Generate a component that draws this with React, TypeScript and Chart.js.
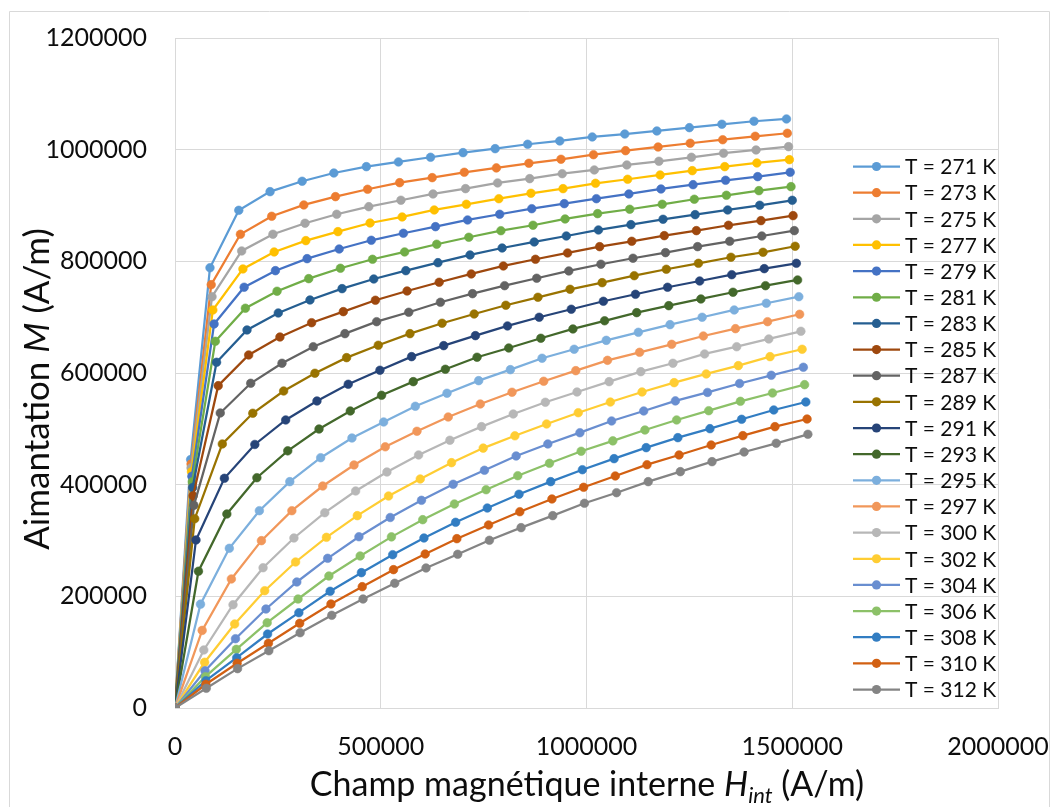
import React, { useEffect, useRef } from "react";
import { Chart, registerables } from "chart.js";

Chart.register(...registerables);

// Temperatures (legend labels)
const temperatures = [271, 273, 275, 277, 279, 281, 283, 285, 287, 289, 291, 293, 295, 297, 300, 302, 304, 306, 308, 310, 312];

// Series colours (Excel Office palette order)
const seriesColors = [
  "#5B9BD5", "#ED7D31", "#A5A5A5", "#FFC000", "#4472C4", "#70AD47",
  "#255E91", "#9E480E", "#636363", "#997300", "#264478", "#43682B",
  "#7CAFDD", "#F1975A", "#B7B7B7", "#FFCD33", "#698ED0", "#8CC168",
  "#327DC2", "#D26012", "#848484",
];

// Internal field H_int (A/m) and magnetisation M (A/m), one pair of arrays per temperature
const h271 = [0, 38000, 85000, 155000, 231000, 309000, 386000, 465000, 543000, 621000, 700000, 778000, 857000, 935000, 1014000, 1093000, 1171000, 1250000, 1329000, 1407000, 1486000];
const m271 = [0, 445000, 788600, 891400, 924800, 943400, 958200, 969600, 978000, 986400, 994700, 1001800, 1009700, 1015600, 1022800, 1028000, 1033500, 1039400, 1045500, 1050900, 1055000];

const h273 = [0, 39000, 88000, 159000, 235000, 313000, 390000, 468000, 546000, 625000, 703000, 781000, 860000, 938000, 1017000, 1095000, 1174000, 1252000, 1331000, 1410000, 1488000];
const m273 = [0, 437000, 758200, 848500, 880700, 901000, 915900, 929100, 940900, 949900, 959500, 967300, 975600, 982800, 991000, 998200, 1004800, 1011500, 1017800, 1024000, 1029400];

const h275 = [0, 39000, 90000, 162000, 238000, 316000, 393000, 471000, 549000, 627000, 706000, 784000, 862000, 941000, 1019000, 1098000, 1176000, 1255000, 1333000, 1412000, 1491000];
const m275 = [0, 430000, 736700, 818600, 848500, 868200, 884300, 897900, 909400, 920700, 930200, 940400, 948100, 957000, 963700, 972600, 979200, 986400, 993600, 999500, 1005400];

const h277 = [0, 40000, 92000, 165000, 241000, 318000, 396000, 474000, 552000, 630000, 708000, 787000, 865000, 943000, 1022000, 1100000, 1179000, 1257000, 1336000, 1414000, 1493000];
const m277 = [0, 423000, 712900, 786400, 816800, 837100, 853200, 868700, 879500, 892000, 902200, 912200, 921900, 930200, 939800, 947000, 954700, 962400, 969600, 976200, 982100];

const h279 = [0, 41000, 95000, 168000, 244000, 321000, 399000, 477000, 555000, 633000, 711000, 789000, 867000, 946000, 1024000, 1103000, 1181000, 1259000, 1338000, 1416000, 1495000];
const m279 = [0, 415000, 687800, 753600, 783300, 804800, 822100, 837700, 850300, 862100, 874100, 884300, 894300, 903300, 912200, 920700, 929600, 937300, 945200, 951700, 959500];

const h281 = [0, 42000, 98000, 171000, 248000, 325000, 402000, 480000, 558000, 636000, 714000, 792000, 870000, 948000, 1027000, 1105000, 1184000, 1262000, 1340000, 1419000, 1497000];
const m281 = [0, 405000, 656800, 716000, 746400, 769000, 787600, 803700, 816800, 830600, 843100, 854900, 864600, 875900, 885400, 893300, 902200, 911200, 918300, 926600, 933800];

const h283 = [0, 43000, 101000, 175000, 251000, 328000, 406000, 483000, 561000, 639000, 717000, 795000, 873000, 951000, 1029000, 1108000, 1186000, 1264000, 1343000, 1421000, 1500000];
const m283 = [0, 395000, 619200, 677100, 707500, 730800, 751100, 768400, 783300, 797600, 811400, 823900, 834700, 845400, 856200, 865700, 875300, 883600, 892000, 900400, 909300];

const h285 = [0, 44000, 105000, 179000, 255000, 332000, 409000, 487000, 564000, 642000, 720000, 798000, 876000, 954000, 1032000, 1110000, 1189000, 1267000, 1345000, 1424000, 1502000];
const m285 = [0, 380000, 577300, 632300, 664500, 690100, 709900, 730300, 746900, 762500, 777400, 791700, 803700, 815000, 826300, 835900, 846000, 855000, 864600, 872900, 881800];

const h287 = [0, 46000, 110000, 184000, 260000, 336000, 413000, 490000, 568000, 645000, 723000, 801000, 879000, 957000, 1035000, 1113000, 1192000, 1270000, 1348000, 1426000, 1505000];
const m287 = [0, 363000, 528400, 581600, 617400, 647100, 670500, 691900, 708800, 726700, 742100, 756400, 769700, 782800, 794800, 805500, 815600, 826300, 835900, 845400, 855000];

const h289 = [0, 48000, 115000, 189000, 264000, 340000, 417000, 494000, 571000, 649000, 727000, 804000, 882000, 960000, 1038000, 1116000, 1194000, 1272000, 1351000, 1429000, 1507000];
const m289 = [0, 339000, 472900, 527900, 567800, 599500, 627500, 649700, 670500, 689100, 705700, 721300, 735600, 749900, 761800, 774300, 785800, 796500, 807300, 816200, 827000];

const h291 = [0, 51000, 120000, 194000, 269000, 345000, 421000, 498000, 575000, 653000, 730000, 808000, 885000, 963000, 1041000, 1119000, 1197000, 1275000, 1353000, 1432000, 1510000];
const m291 = [0, 301000, 411400, 472000, 515900, 549900, 579800, 604900, 629300, 649000, 666900, 684300, 699800, 714200, 728500, 741000, 753600, 764800, 776100, 786900, 796500];

const h293 = [0, 57000, 126000, 199000, 274000, 350000, 426000, 502000, 579000, 657000, 734000, 811000, 889000, 967000, 1044000, 1122000, 1200000, 1278000, 1356000, 1435000, 1513000];
const m293 = [0, 245000, 347500, 412500, 460600, 499700, 532000, 560100, 584500, 606700, 628200, 644800, 662200, 678900, 693500, 708100, 720600, 732600, 744600, 756400, 766600];

const h295 = [0, 62000, 132000, 205000, 279000, 354000, 430000, 507000, 584000, 661000, 738000, 815000, 892000, 970000, 1048000, 1126000, 1203000, 1281000, 1359000, 1437000, 1516000];
const m295 = [0, 186000, 286000, 353400, 405400, 448300, 483600, 512300, 540400, 563700, 586300, 606000, 626400, 642500, 658500, 672900, 686600, 699800, 712900, 724900, 736700];

const h297 = [0, 66000, 137000, 210000, 284000, 359000, 435000, 511000, 588000, 664000, 742000, 819000, 896000, 974000, 1051000, 1129000, 1207000, 1284000, 1362000, 1440000, 1518000];
const m297 = [0, 139000, 231100, 299700, 353400, 397600, 435300, 467800, 495600, 521200, 544500, 565500, 585200, 604200, 622700, 637100, 651400, 666300, 679400, 691900, 705200];

const h300 = [0, 70000, 141000, 214000, 289000, 364000, 439000, 515000, 592000, 668000, 745000, 822000, 900000, 977000, 1055000, 1132000, 1210000, 1287000, 1365000, 1443000, 1521000];
const m300 = [0, 104000, 185000, 251300, 304500, 349800, 388700, 422700, 453200, 479500, 503900, 526600, 547600, 566000, 584500, 602400, 617400, 634100, 647100, 661000, 674700];

const h302 = [0, 72000, 145000, 218000, 293000, 368000, 443000, 519000, 596000, 672000, 749000, 826000, 903000, 980000, 1058000, 1135000, 1213000, 1291000, 1369000, 1446000, 1524000];
const m302 = [0, 81900, 150500, 210100, 261500, 305700, 344500, 379700, 410200, 439400, 465500, 487500, 508700, 528900, 548000, 566000, 582700, 598300, 613200, 629300, 642500];

const h304 = [0, 73000, 147000, 221000, 296000, 371000, 447000, 523000, 599000, 676000, 752000, 829000, 906000, 984000, 1061000, 1139000, 1216000, 1294000, 1372000, 1449000, 1527000];
const m304 = [0, 66800, 124100, 177300, 225700, 268100, 306800, 341200, 372000, 400700, 425800, 451400, 472900, 493100, 514100, 532000, 550000, 565200, 581200, 595900, 610300];

const h306 = [0, 74000, 149000, 224000, 299000, 374000, 450000, 526000, 602000, 679000, 756000, 833000, 910000, 987000, 1064000, 1142000, 1219000, 1297000, 1374000, 1452000, 1530000];
const m306 = [0, 56100, 105100, 152800, 195200, 236400, 272300, 306500, 337300, 365400, 391000, 416100, 438300, 459800, 478500, 497900, 515900, 532500, 549300, 564200, 579100];

const h308 = [0, 75000, 150000, 225000, 301000, 377000, 453000, 529000, 605000, 682000, 759000, 836000, 913000, 990000, 1067000, 1145000, 1222000, 1300000, 1377000, 1455000, 1533000];
const m308 = [0, 48900, 90100, 132500, 170700, 209000, 242400, 274600, 304500, 332600, 358200, 382800, 405400, 426800, 446600, 466300, 484200, 500300, 517100, 533800, 548100];

const h310 = [0, 75000, 151000, 227000, 303000, 379000, 455000, 531000, 608000, 685000, 762000, 838000, 916000, 993000, 1070000, 1147000, 1225000, 1303000, 1380000, 1458000, 1536000];
const m310 = [0, 42500, 80100, 115900, 151700, 186300, 217300, 247800, 275800, 303300, 327800, 351600, 374400, 395300, 415600, 435800, 453200, 471100, 487800, 503900, 517600];

const h312 = [0, 76000, 152000, 228000, 304000, 381000, 457000, 534000, 610000, 687000, 764000, 841000, 918000, 995000, 1073000, 1150000, 1228000, 1305000, 1383000, 1461000, 1538000];
const m312 = [0, 35300, 70500, 102600, 134900, 166000, 195200, 223400, 250800, 275300, 300400, 323000, 344500, 366700, 385600, 405400, 423300, 441200, 458500, 474100, 490200];

const hSeries = [h271, h273, h275, h277, h279, h281, h283, h285, h287, h289, h291, h293, h295, h297, h300, h302, h304, h306, h308, h310, h312];
const mSeries = [m271, m273, m275, m277, m279, m281, m283, m285, m287, m289, m291, m293, m295, m297, m300, m302, m304, m306, m308, m310, m312];

// Axis ticks
const xTickValues = [0, 500000, 1000000, 1500000, 2000000];
const yTickValues = [0, 200000, 400000, 600000, 800000, 1000000, 1200000];

const legendLabels = temperatures.map((t) => `T = ${t} K`);

const FONT = "Lato, 'Liberation Sans', sans-serif";

type Seg = { t: string; italic?: boolean; sub?: boolean };

function drawRich(ctx: CanvasRenderingContext2D, segs: Seg[], size: number, cx: number, baseline: number) {
  const subSize = Math.round(size * 0.66);
  const fontOf = (s: Seg) => `${s.italic ? "italic " : ""}${s.sub ? subSize : size}px ${FONT}`;
  let total = 0;
  const widths = segs.map((s) => {
    ctx.font = fontOf(s);
    const w = ctx.measureText(s.t).width;
    total += w;
    return w;
  });
  let x = cx - total / 2;
  ctx.textAlign = "left";
  ctx.textBaseline = "alphabetic";
  segs.forEach((s, i) => {
    ctx.font = fontOf(s);
    ctx.fillText(s.t, x, baseline + (s.sub ? size * 0.22 : 0));
    x += widths[i];
  });
}

const decorPlugin = {
  id: "decor",
  afterDraw(chart: any) {
    const ctx: CanvasRenderingContext2D = chart.ctx;
    ctx.save();
    // outer chart frame
    ctx.strokeStyle = "#d9d9d9";
    ctx.lineWidth = 1;
    ctx.beginPath();
    ctx.moveTo(9.5, 830);
    ctx.lineTo(9.5, 11.5);
    ctx.lineTo(1049.5, 11.5);
    ctx.lineTo(1049.5, 830);
    ctx.stroke();

    // legend
    const lx0 = 853;
    const lx1 = 900;
    const ltx = 905;
    const ly0 = 166.5;
    const ldy = 26.15;
    ctx.font = `21px ${FONT}`;
    ctx.textBaseline = "middle";
    ctx.textAlign = "left";
    legendLabels.forEach((label, i) => {
      const y = ly0 + i * ldy;
      const c = seriesColors[i];
      ctx.strokeStyle = c;
      ctx.lineWidth = 2.25;
      ctx.beginPath();
      ctx.moveTo(lx0, y);
      ctx.lineTo(lx1, y);
      ctx.stroke();
      ctx.fillStyle = c;
      ctx.beginPath();
      ctx.arc((lx0 + lx1) / 2, y, 4.6, 0, Math.PI * 2);
      ctx.fill();
      ctx.fillStyle = "#0d0d0d";
      ctx.fillText(label, ltx, y + 1);
    });

    // axis titles
    ctx.fillStyle = "#0d0d0d";
    drawRich(
      ctx,
      [
        { t: "Champ magnétique interne " },
        { t: "H", italic: true },
        { t: "int", italic: true, sub: true },
        { t: " (A/m)" },
      ],
      34,
      587,
      796
    );
    ctx.save();
    ctx.translate(49, 389);
    ctx.rotate(-Math.PI / 2);
    drawRich(
      ctx,
      [{ t: "Aimantation " }, { t: "M", italic: true }, { t: " (A/m)" }],
      35,
      0,
      0
    );
    ctx.restore();
    ctx.restore();
  },
};

export default function App() {
  const canvasRef = useRef<HTMLCanvasElement | null>(null);

  useEffect(() => {
    if (!canvasRef.current) return;
    const datasets = temperatures.map((t, i) => ({
      label: legendLabels[i],
      data: hSeries[i].map((h, k) => ({ x: h, y: mSeries[i][k] })),
      borderColor: seriesColors[i],
      backgroundColor: seriesColors[i],
      pointBackgroundColor: seriesColors[i],
      pointBorderColor: seriesColors[i],
      pointRadius: 4.3,
      pointBorderWidth: 0.6,
      borderWidth: 2.25,
      showLine: true,
      tension: 0,
      order: temperatures.length - i,
    }));

    const chart = new Chart(canvasRef.current, {
      type: "scatter",
      data: { datasets },
      options: {
        responsive: false,
        animation: false,
        devicePixelRatio: 1,
        events: [],
        layout: { padding: { left: 0, right: 58, top: 38, bottom: 0 } },
        plugins: {
          legend: { display: false },
          tooltip: { enabled: false },
          title: { display: false },
        },
        scales: {
          x: {
            type: "linear",
            min: xTickValues[0],
            max: xTickValues[xTickValues.length - 1],
            afterFit: (s: any) => {
              s.height = 99;
            },
            afterBuildTicks: (s: any) => {
              s.ticks = xTickValues.map((v) => ({ value: v }));
            },
            ticks: {
              padding: 0,
              color: "#0d0d0d",
              font: { family: FONT, size: 25 },
              maxRotation: 0,
              autoSkip: false,
              callback: (v: any) => String(v),
            },
            grid: { color: "#d9d9d9", lineWidth: 1, drawTicks: true, tickLength: 24, tickColor: "rgba(0,0,0,0)" },
            border: { color: "#d9d9d9", width: 1 },
          },
          y: {
            type: "linear",
            min: yTickValues[0],
            max: yTickValues[yTickValues.length - 1],
            afterFit: (s: any) => {
              s.width = 175;
            },
            afterBuildTicks: (s: any) => {
              s.ticks = yTickValues.map((v) => ({ value: v }));
            },
            ticks: {
              padding: 0,
              color: "#0d0d0d",
              font: { family: FONT, size: 25 },
              autoSkip: false,
              callback: (v: any) => String(v),
            },
            grid: { color: "#d9d9d9", lineWidth: 1, drawTicks: true, tickLength: 28, tickColor: "rgba(0,0,0,0)" },
            border: { color: "#d9d9d9", width: 1 },
          },
        },
      },
      plugins: [decorPlugin],
    } as any);

    return () => chart.destroy();
  }, []);

  return (
    <div style={{ position: "absolute", left: 0, top: 0, width: 1056, height: 807, background: "#ffffff" }}>
      <canvas ref={canvasRef} width={1056} height={807} style={{ display: "block" }} />
    </div>
  );
}
